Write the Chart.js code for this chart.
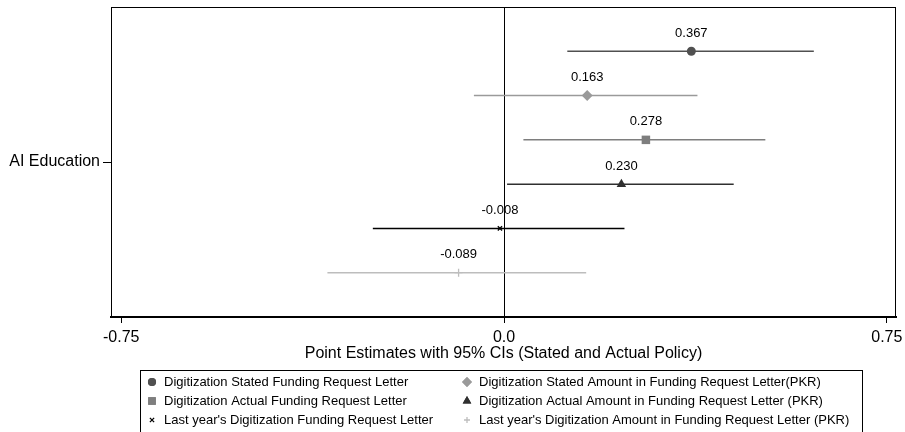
<!DOCTYPE html>
<html>
<head>
<meta charset="utf-8">
<title>Point Estimates with 95% CIs</title>
<script src="https://cdn.jsdelivr.net/npm/chart.js@4.4.1/dist/chart.umd.min.js"></script>
<style>
  html, body { margin: 0; padding: 0; background: #ffffff; }
  #wrap { width: 905px; height: 432px; position: relative; }
</style>
</head>
<body>
<div id="wrap"><canvas id="chart" width="905" height="432"></canvas></div>
<script>
// ---- data ----
const seriesNames = [
  "Digitization Stated Funding Request Letter",
  "Digitization Stated Amount in Funding Request Letter(PKR)",
  "Digitization Actual Funding Request Letter",
  "Digitization Actual Amount in Funding Request Letter (PKR)",
  "Last year's Digitization Funding Request Letter",
  "Last year's Digitization Amount in Funding Request Letter (PKR)"
];
const estimates = [0.367, 0.163, 0.278, 0.230, -0.008, -0.089];
const ciLow     = [0.124, -0.059, 0.038, 0.006, -0.257, -0.346];
const ciHigh    = [0.607, 0.379, 0.512, 0.450, 0.236, 0.161];
const rowPos    = [1, 2, 3, 4, 5, 6];
const categoryLabel = "AI Education";
const categoryPos = 3.5;
const xTickValues = [-0.75, 0, 0.75];
const xTitle = "Point Estimates with 95% CIs (Stated and Actual Policy)";

// ---- styles ----
const colors  = ["#505050", "#9a9a9a", "#7e7e7e", "#303030", "#000000", "#bdbdbd"];
const markers = ["circle", "rectRot", "rect", "triangle", "crossRot", "cross"];
const radii   = [4.5, 5.5, 6, 5.5, 3, 4];
const FONT = "'Liberation Sans', Arial, sans-serif";
const isCross = m => m === "cross" || m === "crossRot";

const datasets = [];
seriesNames.forEach((name, i) => {
  datasets.push({
    label: name + " CI",
    data: [{ x: ciLow[i], y: rowPos[i] }, { x: ciHigh[i], y: rowPos[i] }],
    showLine: true,
    borderColor: colors[i],
    borderWidth: 1.5,
    pointRadius: 0,
    order: 2
  });
});
seriesNames.forEach((name, i) => {
  datasets.push({
    label: name,
    data: [{ x: estimates[i], y: rowPos[i] }],
    pointStyle: markers[i],
    pointRadius: radii[i],
    backgroundColor: colors[i],
    borderColor: colors[i],
    borderWidth: isCross(markers[i]) ? 1.3 : 0,
    order: 1
  });
});

// frame, zero reference line, value labels and legend
const decorPlugin = {
  id: "decor",
  beforeDatasetsDraw(chart) {
    const { ctx, chartArea: a, scales } = chart;
    const x0 = Math.round(scales.x.getPixelForValue(0)) + 0.5;
    ctx.save();
    ctx.strokeStyle = "#000";
    ctx.lineWidth = 1;
    ctx.beginPath();
    ctx.moveTo(x0, a.top);
    ctx.lineTo(x0, a.bottom);
    ctx.stroke();
    ctx.restore();
  },
  afterDraw(chart) {
    const { ctx, chartArea: a, scales } = chart;
    ctx.save();
    // plot frame
    ctx.strokeStyle = "#000";
    ctx.lineWidth = 1;
    ctx.strokeRect(Math.round(a.left) + 0.5, Math.round(a.top) + 0.5,
                   Math.round(a.right - a.left) - 1, Math.round(a.bottom - a.top));
    // value labels above each estimate
    ctx.fillStyle = "#000";
    ctx.font = "13px " + FONT;
    ctx.textAlign = "center";
    ctx.textBaseline = "middle";
    estimates.forEach((v, i) => {
      const px = scales.x.getPixelForValue(v);
      const py = scales.y.getPixelForValue(rowPos[i]);
      ctx.fillText(v.toFixed(3), px, py - 18);
    });
    // legend
    const box = { left: 140, right: 862, top: 370, bottom: 440 };
    ctx.strokeStyle = "#000";
    ctx.lineWidth = 1;
    ctx.strokeRect(box.left + 0.5, box.top + 0.5, box.right - box.left, box.bottom - box.top);
    const colX = [152, 467];
    const rowY = [382, 401, 420];
    ctx.textAlign = "left";
    ctx.font = "13px " + FONT;
    seriesNames.forEach((name, i) => {
      const col = i % 2, row = Math.floor(i / 2);
      const mx = colX[col], my = rowY[row];
      ctx.fillStyle = colors[i];
      ctx.strokeStyle = colors[i];
      const cross = isCross(markers[i]);
      ctx.lineWidth = cross ? 1.3 : 0;
      Chart.helpers.drawPoint(ctx, {
        pointStyle: markers[i], radius: cross ? 3 : radii[i] * 0.9, rotation: 0,
        borderWidth: cross ? 1.3 : 0
      }, mx, my);
      if (!cross) ctx.fill();
      ctx.fillStyle = "#000";
      ctx.fillText(name, mx + 12, my + 0.5);
    });
    ctx.restore();
  }
};

new Chart(document.getElementById("chart"), {
  type: "scatter",
  data: { datasets },
  options: {
    responsive: false,
    animation: false,
    devicePixelRatio: 1,
    layout: { padding: { left: 0, right: 9, top: 7, bottom: 69 } },
    plugins: { legend: { display: false }, tooltip: { enabled: false } },
    scales: {
      x: {
        type: "linear",
        min: -0.77,
        max: 0.768,
        afterBuildTicks: s => { s.ticks = xTickValues.map(v => ({ value: v })); },
        ticks: {
          callback: v => (v === 0 ? "0.0" : String(v)),
          color: "#000",
          font: { family: FONT, size: 16 },
          padding: 5,
          maxRotation: 0,
          autoSkip: false
        },
        grid: { drawOnChartArea: false, drawTicks: true, tickLength: 6, color: "#000", tickWidth: 1 },
        border: { display: true, color: "#000", width: 2 },
        title: {
          display: true,
          text: xTitle,
          color: "#000",
          font: { family: FONT, size: 16 },
          padding: { top: 0, bottom: 0 }
        },
        afterFit: s => { s.height = 46; s.paddingLeft = 0; s.paddingRight = 0; }
      },
      y: {
        type: "linear",
        reverse: true,
        min: 0,
        max: 7,
        afterBuildTicks: s => { s.ticks = [{ value: categoryPos }]; },
        ticks: {
          callback: () => categoryLabel,
          color: "#000",
          font: { family: FONT, size: 16 },
          padding: 3,
          autoSkip: false
        },
        grid: { drawOnChartArea: false, drawTicks: true, tickLength: 8, color: "#000" },
        border: { display: true, color: "#000", width: 1 },
        afterFit: s => { s.width = 111; s.paddingTop = 0; s.paddingBottom = 0; }
      }
    }
  },
  plugins: [decorPlugin]
});
</script>
</body>
</html>
